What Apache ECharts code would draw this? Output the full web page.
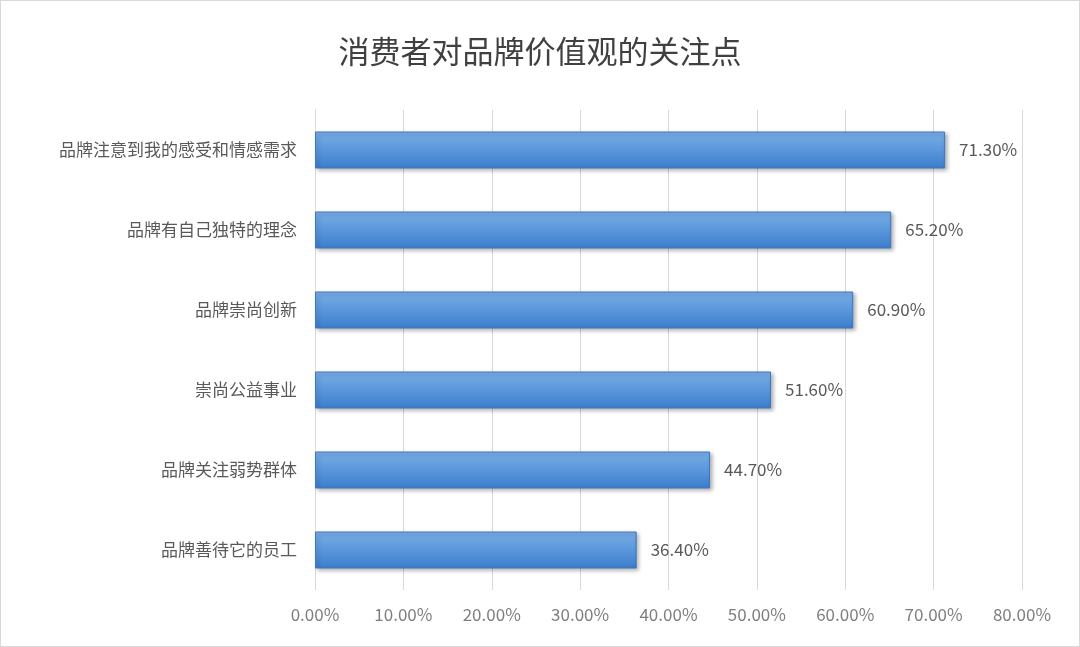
<!DOCTYPE html>
<html>
<head>
<meta charset="UTF-8">
<title>消费者对品牌价值观的关注点</title>
<script type="text/javascript" src="https://cdn.jsdelivr.net/npm/echarts@6/dist/echarts.min.js"></script>
<style>
body{margin:0;background:#fff;}
#main{width:1078px;height:645px;border:1px solid #d9d9d9;}
</style>
</head>
<body>
<div id="main"></div>
<script type="text/javascript">
var categories=['品牌善待它的员工','品牌关注弱势群体','崇尚公益事业','品牌崇尚创新','品牌有自己独特的理念','品牌注意到我的感受和情感需求'];
var values=[36.4,44.7,51.6,60.9,65.2,71.3];

var mychart=echarts.init(document.getElementById('main'));
var font='"Noto Sans CJK SC","Noto Sans",sans-serif';
var option={
  title:{
    text:'消费者对品牌价值观的关注点',
    left:'center',top:30,
    textStyle:{fontFamily:font,fontSize:31,fontWeight:'normal',color:'#404040'}
  },
  grid:{left:314,right:57,top:109,bottom:56,containLabel:false},
  xAxis:{
    type:'value',min:0,max:80,interval:10,
    axisLine:{show:false},axisTick:{show:false},
    axisLabel:{formatter:function(v){return v.toFixed(2)+'%';},color:'#7f7f7f',fontSize:17,fontFamily:font,margin:16},
    splitLine:{lineStyle:{color:'#d9d9d9'}}
  },
  yAxis:{
    type:'category',data:categories,
    axisLine:{lineStyle:{color:'#d9d9d9'}},axisTick:{show:false},
    axisLabel:{color:'#595959',fontSize:17,fontFamily:font,margin:18}
  },
  series:[{
    type:'bar',data:values,barWidth:37,
    itemStyle:{
      color:new echarts.graphic.LinearGradient(0,0,0,1,[
        {offset:0,color:'#7aaee6'},{offset:0.5,color:'#5a97dc'},{offset:1,color:'#3d7ccc'}
      ]),
      borderColor:'#3a78c4',borderWidth:1,
      shadowColor:'rgba(0,0,0,0.3)',shadowBlur:4,shadowOffsetX:2,shadowOffsetY:2
    },
    label:{show:true,position:'right',distance:14,formatter:function(p){return p.value.toFixed(2)+'%';},color:'#595959',fontSize:17,fontFamily:font}
  }]
};
mychart.setOption(option);
</script>
</body>
</html>
